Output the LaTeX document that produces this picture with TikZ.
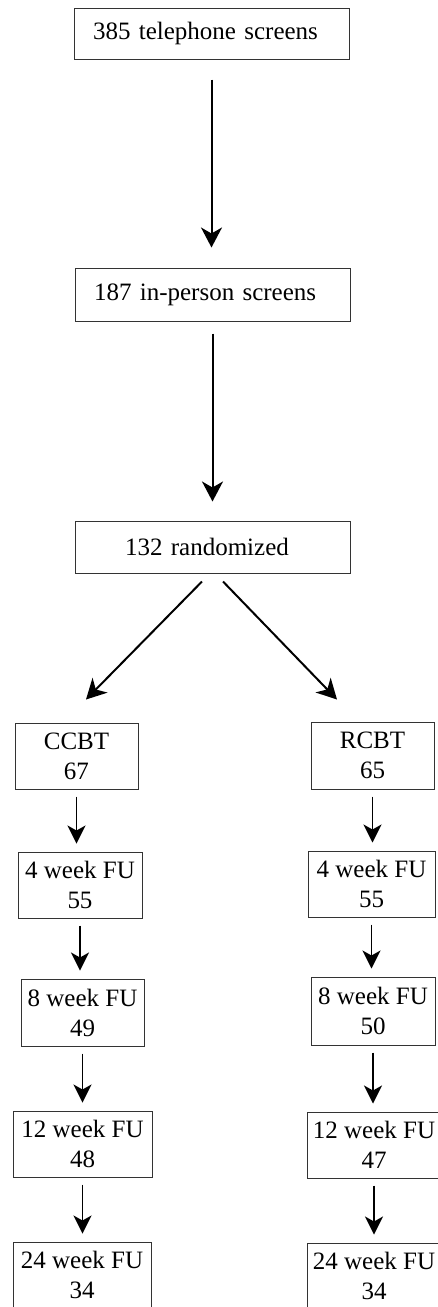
\documentclass[tikz,border=0pt]{standalone}
\usepackage{fontspec}
\setmainfont{Liberation Serif}
\usetikzlibrary{arrows.meta,positioning}
\definecolor{boxline}{HTML}{333333}

\begin{document}
\begin{tikzpicture}[x=1pt,y=-1pt,font=\fontsize{25}{30}\selectfont,
  screen/.style={draw=boxline,line width=1pt,inner ysep=0pt,inner xsep=19pt,
                 text width=237pt,align=left},
  arm/.style={draw=boxline,line width=1pt,inner sep=0pt,minimum height=66pt,align=center},
  flow/.style={-{Stealth[length=18pt,width=18pt,inset=5pt]},line width=1.8pt},
  bigflow/.style={-{Stealth[length=20pt,width=21pt,inset=6pt]},line width=2pt}]
\useasboundingbox (0,0) rectangle (437,1307);
% screening
\node[screen,minimum height=51pt] (phone) at (211.5,33.5) {385 telephone screens};
\node[screen,minimum height=53pt] (person) at (212.5,294.5) {187 in-person screens};
\node[screen,minimum height=52pt,inner xsep=50pt,text width=175pt] (rand) at (212.5,547) {132 randomized};
% CCBT arm
\node[arm,minimum width=123pt] (ccbt) at (76.5,756) {CCBT\\67};
\node[arm,minimum width=124pt] (cfour) at (80,885) {4 week FU\\55};
\node[arm,minimum width=123pt,minimum height=67pt] (ceight) at (82.5,1012.5) {8 week FU\\49};
\node[arm,minimum width=139pt] (ctwelve) at (82.5,1144) {12 week FU\\48};
\node[arm,minimum width=138pt] (ctwfour) at (82,1275) {24 week FU\\34};
% RCBT arm
\node[arm,minimum width=123pt,minimum height=67pt] (rcbt) at (372.5,755.5) {RCBT\\65};
\node[arm,minimum width=127pt] (rfour) at (371.5,884) {4 week FU\\55};
\node[arm,minimum width=124pt,minimum height=68pt] (reight) at (373,1011) {8 week FU\\50};
\node[arm,minimum width=134pt] (rtwelve) at (374,1145) {12 week FU\\47};
\node[arm,minimum width=134pt] (rtwfour) at (374,1276) {24 week FU\\34};
% arrows
\draw[bigflow,shorten <=20pt,shorten >=20pt] (phone.south) -- (phone.south |- person.north);
\draw[bigflow,shorten <=12pt,shorten >=19pt] (person.south) -- (person.south |- rand.north);
\draw[bigflow] ([xshift=-10.5pt,yshift=-8pt]rand.south) -- ([xshift=9.5pt,yshift=23pt]ccbt.north);
\draw[bigflow] ([xshift=10.5pt,yshift=-8pt]rand.south) -- ([xshift=-35.5pt,yshift=22pt]rcbt.north);
\foreach \a/\b in {ccbt/cfour,cfour/ceight,ceight/ctwelve,ctwelve/ctwfour,
                   rcbt/rfour,rfour/reight,reight/rtwelve,rtwelve/rtwfour}{
  \draw[flow,shorten <=7pt,shorten >=8pt] (\a.south) -- (\a.south |- \b.north);
}
\end{tikzpicture}
\end{document}
